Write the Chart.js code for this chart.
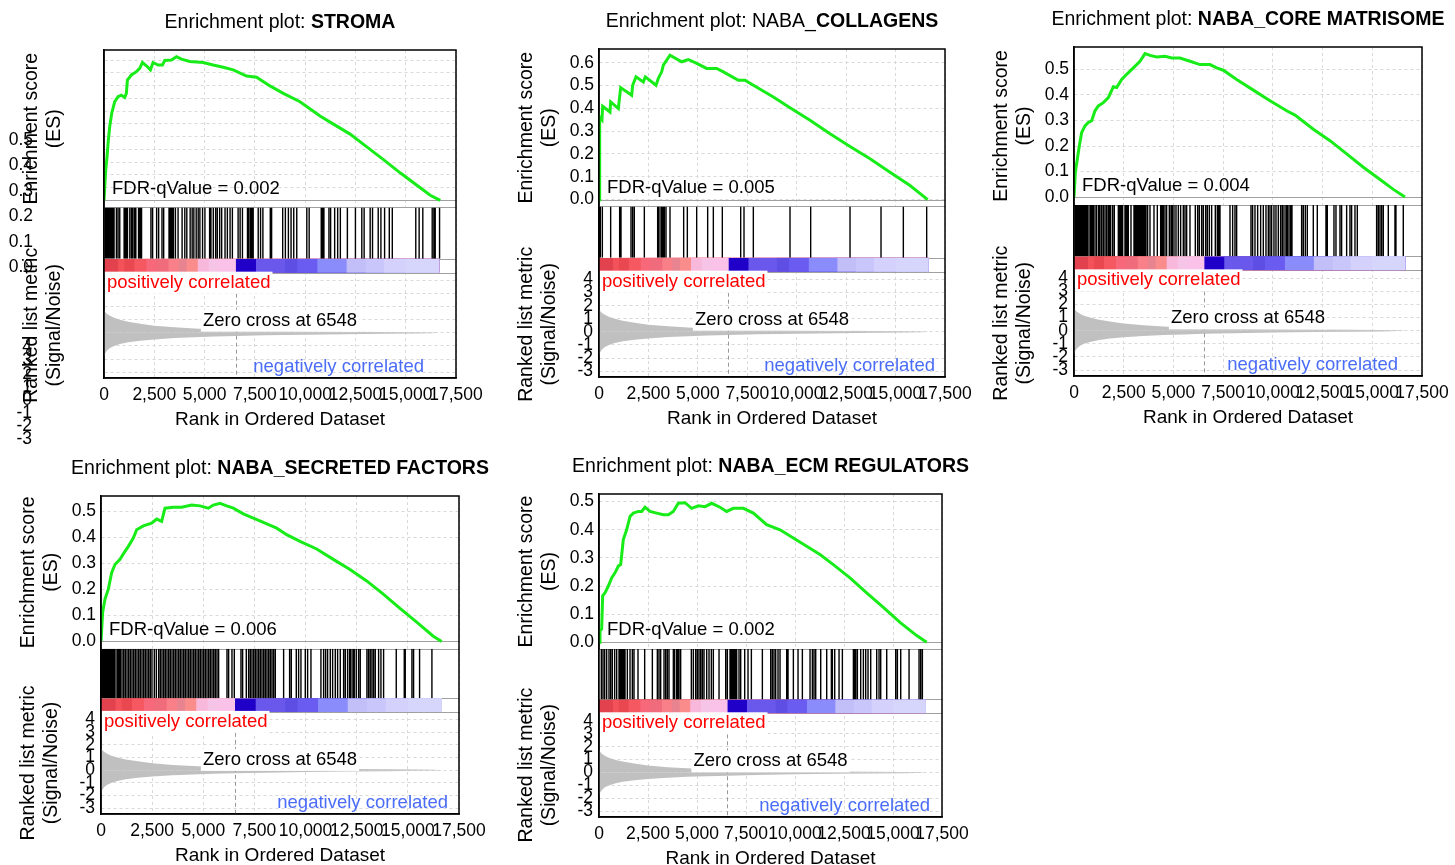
<!DOCTYPE html>
<html>
<head>
<meta charset="utf-8">
<script src="https://cdn.jsdelivr.net/npm/chart.js@4.4.1/dist/chart.umd.min.js"></script>
<style>
  html, body { margin: 0; padding: 0; background: #fff; overflow: hidden; }
  body { width: 1455px; height: 865px; position: relative; }
  canvas { position: absolute; }
</style>
</head>
<body>
<script>
// gene sets shown, one panel each
const titlePrefix = ['Enrichment plot: ', 'Enrichment plot: NABA_', 'Enrichment plot: ', 'Enrichment plot: ', 'Enrichment plot: '];
const titleBold = ['STROMA', 'COLLAGENS', 'NABA_CORE MATRISOME', 'NABA_SECRETED FACTORS', 'NABA_ECM REGULATORS'];
const fdrValues = ['0.002', '0.005', '0.004', '0.006', '0.002'];
const zeroCross = 6548;
const rankMax = 17500;

// running enrichment score, [rank, ES]
const esStroma = [[0,0],[85,0.118],[150,0.17],[216,0.236],[283,0.289],[382,0.341],[533,0.387],[697,0.407],[863,0.413],[1029,0.404],[1112,0.42],[1164,0.472],[1361,0.492],[1610,0.505],[1776,0.518],[1911,0.541],[2108,0.528],[2307,0.512],[2440,0.541],[2689,0.531],[2905,0.531],[3021,0.549],[3353,0.551],[3604,0.564],[3851,0.554],[4266,0.545],[4930,0.541],[5428,0.531],[5926,0.522],[6426,0.512],[7088,0.488],[7586,0.483],[8250,0.449],[8914,0.42],[9744,0.387],[10740,0.331],[11406,0.299],[12234,0.26],[13064,0.21],[13894,0.16],[14724,0.108],[15554,0.059],[16218,0.02],[16718,0]];
const esCollagens = [[0,0],[17,0.289],[50,0.362],[150,0.35],[185,0.409],[556,0.384],[590,0.428],[978,0.399],[1096,0.491],[1652,0.457],[1703,0.501],[1871,0.538],[2242,0.516],[2343,0.538],[2883,0.501],[3001,0.531],[3170,0.56],[3254,0.589],[3591,0.633],[4181,0.604],[4518,0.614],[4940,0.597],[5446,0.575],[5952,0.575],[6289,0.56],[7048,0.523],[7385,0.523],[7807,0.501],[8819,0.45],[9661,0.403],[10673,0.348],[11684,0.289],[12696,0.233],[13708,0.179],[14719,0.12],[15730,0.062],[16624,0]];
const esCore = [[0,0],[67,0.097],[168,0.149],[268,0.201],[386,0.253],[553,0.279],[721,0.292],[888,0.299],[1056,0.338],[1224,0.357],[1475,0.37],[1727,0.39],[1978,0.432],[2146,0.429],[2397,0.461],[2649,0.481],[2984,0.506],[3319,0.532],[3570,0.562],[3822,0.555],[4157,0.549],[4576,0.552],[4911,0.545],[5331,0.545],[5834,0.532],[6336,0.519],[6839,0.519],[7174,0.506],[7509,0.497],[8180,0.461],[9018,0.419],[9857,0.377],[10695,0.338],[11114,0.321],[12035,0.266],[12874,0.221],[13712,0.169],[14550,0.117],[15389,0.069],[16058,0.03],[16645,0]];
const esSecreted = [[0,0],[81,0.112],[196,0.163],[358,0.201],[521,0.265],[684,0.296],[929,0.316],[1124,0.341],[1336,0.366],[1580,0.398],[1743,0.43],[2069,0.445],[2476,0.455],[2721,0.471],[2965,0.462],[3128,0.513],[3536,0.517],[3943,0.517],[4432,0.525],[4839,0.522],[5247,0.513],[5491,0.525],[5817,0.532],[6143,0.522],[6469,0.513],[6958,0.491],[7446,0.475],[7935,0.458],[8588,0.436],[9077,0.411],[9727,0.385],[10543,0.356],[11357,0.316],[12172,0.277],[12987,0.233],[13799,0.182],[14615,0.127],[15432,0.074],[16243,0.02],[16653,0]];
const esEcm = [[0,0],[51,0.041],[136,0.047],[187,0.165],[306,0.176],[476,0.2],[646,0.229],[816,0.247],[986,0.271],[1105,0.276],[1241,0.365],[1411,0.4],[1582,0.447],[1752,0.459],[2007,0.465],[2177,0.465],[2347,0.48],[2602,0.465],[2942,0.459],[3282,0.453],[3537,0.453],[3792,0.465],[4047,0.494],[4388,0.496],[4728,0.476],[5068,0.485],[5408,0.482],[5748,0.494],[6173,0.48],[6514,0.465],[6854,0.476],[7364,0.476],[7874,0.459],[8554,0.418],[9235,0.4],[9915,0.371],[10595,0.341],[11275,0.312],[11955,0.276],[12806,0.229],[13656,0.176],[14507,0.124],[15357,0.071],[16208,0.024],[16718,0]];

// ranks of the gene set members (hit lines)
const hitsStroma = [50,100,150,200,250,300,350,400,450,500,617,700,783,1000,1050,1117,1167,1283,1367,1433,1517,1583,1717,1767,1817,1867,2333,2417,2617,2717,2883,2967,3233,3283,3333,3400,3450,3550,3683,3883,4017,4117,4283,4383,4467,4583,4683,4767,4900,5017,5250,5317,5433,5550,5633,5750,5850,6017,6133,6267,6383,6667,6767,6883,7133,7200,7283,7350,7417,7667,7783,7900,8267,8333,8883,9017,9167,9300,9433,9583,10083,10200,10800,10867,10933,11183,11267,11467,11617,11750,12100,12500,12817,12933,13233,13350,13633,13767,13950,14183,14333,15500,15667,15850,16317,16400,16467,16683];
const hitsCollagens = [34,67,169,590,1045,1113,1619,1703,1787,2293,2967,3035,3136,3203,3254,3305,3389,3591,4282,4468,4940,5496,5783,6238,7166,7334,7806,9661,10706,12696,14264,15393,16573];
const hitsCore = [50,100,151,201,251,302,352,402,469,536,603,670,754,838,905,972,1056,1140,1240,1307,1391,1475,1559,1642,1726,1777,1844,1944,2028,2229,2279,2330,2380,2447,2564,2615,2665,2732,2866,3017,3067,3117,3168,3218,3268,3318,3369,3419,3469,3520,3570,3620,3704,3821,4022,4190,4358,4425,4492,4575,4659,4793,4877,4944,5028,5129,5246,5363,5497,5581,5665,5832,6101,6218,6302,6419,6503,6620,6704,6805,6922,7106,7207,7274,7341,7844,7978,8095,8179,8900,8983,9101,9235,9386,9520,9654,9771,9855,9939,10056,10157,10274,10391,10475,10559,10659,10726,10810,10894,10961,11447,11531,11632,11732,12034,12235,12671,12738,13073,13174,13375,13458,13710,13877,13961,14129,14246,15218,15302,15386,15470,15554,15805,16140,16190,16559];
const hitsSecreted = [20,49,98,147,195,244,293,342,391,440,489,538,586,652,733,815,880,945,1026,1108,1189,1271,1352,1434,1515,1596,1678,1759,1841,1922,2004,2085,2167,2248,2329,2411,2492,2606,2704,2818,2900,2981,3063,3144,3225,3307,3388,3470,3551,3633,3714,3796,3877,3958,4040,4121,4203,4284,4366,4447,4529,4610,4692,4773,4854,4936,5017,5099,5180,5262,5343,5425,5506,5587,5669,5750,6158,6239,6402,6516,6842,6923,7102,7216,7298,7379,7461,7542,7624,7705,7787,7868,7950,8031,8112,8194,8275,8357,8438,8520,8927,9220,9302,9546,9660,9774,9986,10100,10263,10751,10882,10979,11077,11208,11322,11452,11566,11696,11859,11941,12055,12152,12218,12315,12380,12478,12592,12673,12999,13081,13162,13244,13325,13407,13570,13684,13814,14433,14824,14873,15199,15280,15573,16176];
const hitsEcm = [119,204,289,391,510,595,680,799,902,1021,1072,1123,1174,1225,1276,1327,1446,1582,1701,1786,1990,2330,2722,2977,3062,3147,3317,3402,3487,3572,3793,3861,3963,4031,4082,4167,4712,4814,4933,5018,5103,5188,5273,5358,5494,5613,5732,5834,6124,6464,6549,6685,6753,6821,6889,6957,7025,7144,7229,7433,7603,7774,8335,8760,8845,8930,9015,9134,9236,9577,9645,9917,10155,10376,10767,10886,10971,11057,11312,11618,11856,11907,12026,12247,12417,12979,13047,13098,13183,13352,13489,13607,13726,13863,14169,14288,14373,14680,15139,15224,15394,15819,16329,16414,16499];

// ranked list metric (signal/noise), upper and lower envelope
const metricRanks = [0, 60, 150, 300, 500, 800, 1200, 1800, 2500, 3500, 4500, 5500, 6548, 8000, 10000, 12000, 14000, 15500, 16300, 16700];
const metricUpper = [1.75, 1.6, 1.45, 1.3, 1.15, 1.0, 0.85, 0.7, 0.55, 0.42, 0.33, 0.26, 0.2, 0.16, 0.12, 0.09, 0.07, 0.05, 0.03, 0.0];
const metricLower = [-1.9, -1.55, -1.35, -1.15, -1.0, -0.85, -0.72, -0.6, -0.5, -0.4, -0.33, -0.28, -0.24, -0.19, -0.14, -0.1, -0.07, -0.05, -0.03, 0.0];

// heat bar under the hits
const barEdges = [0, 700, 1000, 1500, 2100, 2600, 3200, 3700, 4100, 4650, 5200, 5700, 6548, 7550, 9000, 9600, 10600, 12050, 13000, 13900, 15000, 16670];
const barColors = ['#e2424e','#f4525a','#ea4850','#f55860','#f7687a','#f06c7c','#f98088','#e88490','#fb8c8c','#f8b8dc','#f6c4e6','#fac2e8','#2000c8','#6a58ec','#5e4ee4','#6a5cf0','#8a8cfc','#c2bef8','#c8c6fa','#d4d2fc','#d6d6fd'];

const FONT = '"Liberation Sans", Arial, Helvetica, sans-serif';
const gridColor = '#d9d9d9';
const gridDash = [3, 3];
const esGreen = 'rgb(24,236,24)';
// the STROMA panel has its y tick labels drawn out of place in the original
const strayOffset = [-66, 67];

Chart.defaults.font.family = FONT;
Chart.defaults.color = '#000';

const panels = [
  { es: esStroma, hits: hitsStroma, esMin: -0.028, esMax: 0.59, esStep: 0.05, box: [104, 50, 456, 378], negInset: 32, strayTicks: true },
  { es: esCollagens, hits: hitsCollagens, esMin: -0.03, esMax: 0.66, esStep: 0.1, box: [599, 49, 945, 377], negInset: 10 },
  { es: esCore, hits: hitsCore, esMin: -0.031, esMax: 0.588, esStep: 0.1, box: [1074, 47, 1422, 376], negInset: 24 },
  { es: esSecreted, hits: hitsSecreted, esMin: -0.028, esMax: 0.56, esStep: 0.1, box: [101, 496, 459, 814], negInset: 11 },
  { es: esEcm, hits: hitsEcm, esMin: -0.024, esMax: 0.527, esStep: 0.1, box: [599, 494, 942, 817], negInset: 12 },
];

function textWithBg(ctx, text, x, y, align, color, bg) {
  ctx.textAlign = align;
  if (bg) {
    const w = ctx.measureText(text).width;
    const x0 = align === 'center' ? x - w / 2 : align === 'right' ? x - w : x;
    ctx.fillStyle = '#fff';
    ctx.fillRect(x0 - 2, y - 11, w + 4, 22);
  }
  ctx.fillStyle = color;
  ctx.fillText(text, x, y);
}

const gseaDecor = {
  id: 'gseaDecor',
  beforeDatasetsDraw(chart) {
    const { ctx, chartArea: a, scales: s } = chart;
    ctx.save();
    // no grid behind hits and heat bar
    ctx.fillStyle = '#fff';
    ctx.fillRect(a.left, s.yHit.top, a.width, s.yBar.bottom - s.yHit.top);
    ctx.strokeStyle = '#a0a0a0';
    ctx.lineWidth = 1;
    for (const y of [s.yES.getPixelForValue(0), s.yHit.top, s.yBar.top, s.yBar.bottom]) {
      const yy = Math.round(y) + 0.5;
      ctx.beginPath();
      ctx.moveTo(a.left, yy);
      ctx.lineTo(a.right, yy);
      ctx.stroke();
    }
    ctx.restore();
  },
  afterDatasetsDraw(chart, args, opts) {
    const { ctx, chartArea: a, scales: s } = chart;
    const m = s.yMetric;
    ctx.save();
    const zx = Math.round(s.x.getPixelForValue(zeroCross)) + 0.5;
    ctx.strokeStyle = '#999';
    ctx.lineWidth = 1;
    ctx.setLineDash([4, 3]);
    ctx.beginPath();
    ctx.moveTo(zx, m.top);
    ctx.lineTo(zx, m.bottom);
    ctx.stroke();
    ctx.setLineDash([]);

    ctx.font = '18.5px ' + FONT;
    ctx.textBaseline = 'middle';
    textWithBg(ctx, 'FDR-qValue = ' + opts.fdr, a.left + 8, s.yES.bottom - 19, 'left', '#000', false);
    textWithBg(ctx, 'positively correlated', a.left + 3, m.top + 10, 'left', '#ff0000', true);
    textWithBg(ctx, 'Zero cross at ' + zeroCross, (a.left + a.right) / 2, m.top + 48, 'center', '#000', true);
    textWithBg(ctx, 'negatively correlated', a.right - opts.negInset, m.bottom - 11, 'right', '#4a6cf7', false);
    ctx.restore();
  },
  afterDraw(chart, args, opts) {
    const { ctx, chartArea: a, scales: s } = chart;
    ctx.save();
    ctx.strokeStyle = '#000';
    ctx.lineWidth = 1.5;
    ctx.strokeRect(a.left, a.top, a.width, a.height);

    // title: plain prefix + bold set name
    const [pre, bold] = opts.title;
    ctx.font = '19.5px ' + FONT;
    const w1 = ctx.measureText(pre).width;
    ctx.font = 'bold 19.5px ' + FONT;
    const w2 = ctx.measureText(bold).width;
    const tx = (a.left + a.right) / 2 - (w1 + w2) / 2;
    const ty = a.top - 27;
    ctx.textAlign = 'left';
    ctx.textBaseline = 'middle';
    ctx.fillStyle = '#000';
    ctx.font = '19.5px ' + FONT;
    ctx.fillText(pre, tx, ty);
    ctx.font = 'bold 19.5px ' + FONT;
    ctx.fillText(bold, tx + w1, ty);

    if (opts.strayTicks) {
      const [dx, dy] = strayOffset;
      ctx.font = '17.5px ' + FONT;
      ctx.textAlign = 'right';
      for (const t of s.yES.ticks) {
        const hundredths = Math.round(t.value * 100);
        if (hundredths % 10 === 0) {
          ctx.fillText((hundredths / 100).toFixed(1), s.yES.right - 5 + dx, s.yES.getPixelForValue(t.value) + dy);
        }
      }
      for (const t of s.yMetric.ticks) {
        ctx.fillText(String(t.value), s.yMetric.right - 6 + dx, s.yMetric.getPixelForValue(t.value) + dy);
      }
    }
    ctx.restore();
  }
};

const fixWidth = (scale) => { scale.width = 88; };

function buildConfig(p, i) {
  const datasets = [];
  datasets.push({
    data: p.es.map(([x, y]) => ({ x, y })),
    yAxisID: 'yES',
    borderColor: esGreen,
    borderWidth: 3,
    pointRadius: 0,
    tension: 0,
  });
  datasets.push({
    data: p.hits.flatMap((h) => [{ x: h, y: 0 }, { x: h, y: 1 }, { x: h, y: null }]),
    yAxisID: 'yHit',
    borderColor: '#000',
    borderWidth: 1.4,
    pointRadius: 0,
    spanGaps: false,
  });
  // each band runs to the end of the bar; later bands sit on top, so no seams
  const barEnd = barEdges[barEdges.length - 1];
  for (let k = barColors.length - 1; k >= 0; k--) {
    datasets.push({
      data: [{ x: barEdges[k], y: 1 }, { x: barEnd, y: 1 }],
      yAxisID: 'yBar',
      borderColor: 'rgba(0,0,0,0)',
      borderWidth: 0,
      pointRadius: 0,
      fill: 'origin',
      backgroundColor: barColors[k],
    });
  }
  for (const env of [metricUpper, metricLower]) {
    datasets.push({
      data: metricRanks.map((r, k) => ({ x: r, y: env[k] })),
      yAxisID: 'yMetric',
      borderColor: 'rgba(0,0,0,0)',
      borderWidth: 0,
      pointRadius: 0,
      fill: 'origin',
      backgroundColor: '#c0c0c0',
    });
  }

  const axisBorder = { color: '#000', width: 1.5, dash: gridDash };
  const stackedBase = { type: 'linear', position: 'left', stack: 'gsea', afterFit: fixWidth };

  return {
    type: 'line',
    data: { datasets },
    options: {
      responsive: false,
      animation: false,
      devicePixelRatio: 1,
      events: [],
      layout: { padding: { left: 16, top: 50, right: 40, bottom: 20 } },
      plugins: {
        legend: { display: false },
        tooltip: { enabled: false },
        gseaDecor: { title: [titlePrefix[i], titleBold[i]], fdr: fdrValues[i], negInset: p.negInset, strayTicks: !!p.strayTicks },
      },
      scales: {
        x: {
          type: 'linear',
          position: 'bottom',
          min: 0,
          max: rankMax,
          ticks: { stepSize: 2500, autoSkip: false, maxRotation: 0, minRotation: 0, padding: 7, font: { size: 17.5 } },
          grid: { color: gridColor, drawTicks: false },
          border: axisBorder,
          title: { display: true, text: 'Rank in Ordered Dataset', font: { size: 19 } },
          afterFit: (scale) => { scale.height = 57; },
        },
        yES: {
          ...stackedBase,
          stackWeight: 157,
          weight: 4,
          min: p.esMin,
          max: p.esMax,
          ticks: {
            display: !p.strayTicks,
            stepSize: p.esStep,
            includeBounds: false,
            autoSkip: false,
            padding: 5,
            font: { size: 17.5 },
            callback: (v) => v.toFixed(1),
          },
          grid: { color: gridColor, drawTicks: false },
          border: axisBorder,
          title: { display: true, text: ['Enrichment score', '(ES)'], font: { size: 19.5 } },
        },
        yHit: {
          ...stackedBase,
          stackWeight: 51,
          weight: 3,
          min: 0,
          max: 1,
          ticks: { display: false },
          grid: { display: false },
          border: { color: '#000', width: 1.5 },
        },
        yBar: {
          ...stackedBase,
          stackWeight: 14,
          weight: 2,
          min: 0,
          max: 1,
          ticks: { display: false },
          grid: { display: false },
          border: { color: '#000', width: 1.5 },
        },
        yMetric: {
          ...stackedBase,
          stackWeight: 105,
          weight: 1,
          min: -3.45,
          max: 4.6,
          ticks: {
            display: !p.strayTicks,
            stepSize: 1,
            includeBounds: false,
            autoSkip: false,
            padding: 6,
            font: { size: 17.5 },
          },
          grid: { color: gridColor, drawTicks: false },
          border: axisBorder,
          title: { display: true, text: ['Ranked list metric', '(Signal/Noise)'], font: { size: 19.5 } },
        },
      },
    },
    plugins: [gseaDecor],
  };
}

panels.forEach((p, i) => {
  const [L, T, R, B] = p.box;
  const w = R - L + 104 + 40;
  const h = B - T + 50 + 57 + 20;
  const cv = document.createElement('canvas');
  cv.width = w;
  cv.height = h;
  cv.style.left = (L - 104) + 'px';
  cv.style.top = (T - 50) + 'px';
  cv.style.width = w + 'px';
  cv.style.height = h + 'px';
  document.body.appendChild(cv);
  new Chart(cv, buildConfig(p, i));
});
</script>
</body>
</html>
